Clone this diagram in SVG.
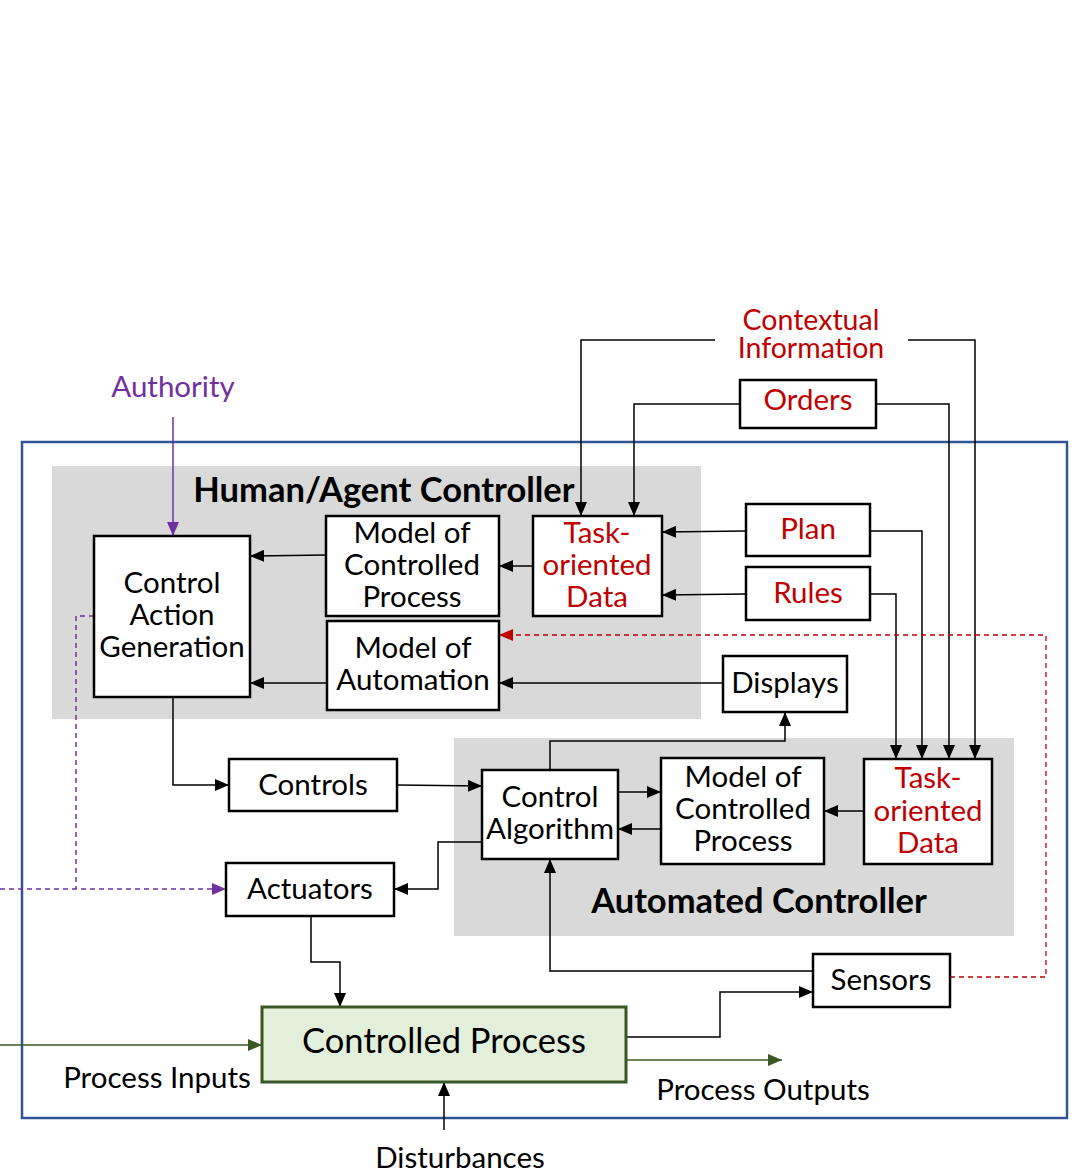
<svg xmlns="http://www.w3.org/2000/svg" width="1074" height="1172" viewBox="0 0 1074 1172">
<style>
  text { font-family: Lato, "Open Sans", "Liberation Sans", sans-serif; font-size: 29.5px; fill: #000; text-anchor: middle; }
  .red { fill: #C00000; }
  .purple { fill: #7030A0; }
  .title { font-weight: bold; font-size: 34.5px; }
  .box { fill: #fff; stroke: #000; stroke-width: 2.5; }
  .zone { fill: #D9D9D9; }
  .line { fill: none; stroke: #000; stroke-width: 1.5; }
  .dash-red { fill: none; stroke: #C00000; stroke-width: 1.3; stroke-dasharray: 5 4; }
  .dash-purple { fill: none; stroke: #7030A0; stroke-width: 1.5; stroke-dasharray: 5 4; }
  .green { fill: none; stroke: #385723; stroke-width: 1.5; }
</style>
<defs>
  <marker id="ah" viewBox="0 0 14 12" refX="14" refY="6" markerWidth="14" markerHeight="12" orient="auto" markerUnits="userSpaceOnUse"><path d="M0,0 L14,6 L0,12 z" fill="#000"/></marker>
  <marker id="ah-red" viewBox="0 0 14 12" refX="14" refY="6" markerWidth="14" markerHeight="12" orient="auto" markerUnits="userSpaceOnUse"><path d="M0,0 L14,6 L0,12 z" fill="#C00000"/></marker>
  <marker id="ah-purple" viewBox="0 0 14 12" refX="14" refY="6" markerWidth="14" markerHeight="12" orient="auto" markerUnits="userSpaceOnUse"><path d="M0,0 L14,6 L0,12 z" fill="#7030A0"/></marker>
  <marker id="ah-green" viewBox="0 0 14 12" refX="14" refY="6" markerWidth="14" markerHeight="12" orient="auto" markerUnits="userSpaceOnUse"><path d="M0,0 L14,6 L0,12 z" fill="#385723"/></marker>
</defs>

<!-- system boundary and controller zones -->
<rect x="22" y="442" width="1045" height="676" fill="none" stroke="#2F5597" stroke-width="2.5"/>
<rect class="zone" x="52" y="466" width="649" height="253"/>
<rect class="zone" x="454" y="738" width="560" height="198"/>
<text class="title" x="384" y="502">Human/Agent Controller</text>
<text class="title" x="759" y="913">Automated Controller</text>

<!-- connectors -->
<g id="connectors">
  <!-- contextual information -->
  <path class="line" d="M715,340 H581 V516" marker-end="url(#ah)"/>
  <path class="line" d="M908,340 H975 V759" marker-end="url(#ah)"/>
  <!-- orders -->
  <path class="line" d="M740,404 H634 V516" marker-end="url(#ah)"/>
  <path class="line" d="M876,404 H949 V759" marker-end="url(#ah)"/>
  <!-- plan / rules -->
  <path class="line" d="M746,531 L662,532" marker-end="url(#ah)"/>
  <path class="line" d="M870,531 H922 V759" marker-end="url(#ah)"/>
  <path class="line" d="M746,594 L662,595" marker-end="url(#ah)"/>
  <path class="line" d="M870,594 H896 V759" marker-end="url(#ah)"/>
  <!-- human controller internals -->
  <path class="line" d="M533,566 H499" marker-end="url(#ah)"/>
  <path class="line" d="M326,555 L250,556" marker-end="url(#ah)"/>
  <path class="line" d="M327,683 H250" marker-end="url(#ah)"/>
  <path class="line" d="M723,683 H499" marker-end="url(#ah)"/>
  <!-- sensor feedback to model of automation -->
  <path class="dash-red" d="M950,977 H1046 V635 H499" marker-end="url(#ah-red)"/>
  <!-- authority -->
  <path d="M173,417 V536" fill="none" stroke="#7030A0" stroke-width="1.5" marker-end="url(#ah-purple)"/>
  <path class="dash-purple" d="M94,616 H76 V889"/>
  <path class="dash-purple" d="M0,889 H226" marker-end="url(#ah-purple)"/>
  <!-- control path -->
  <path class="line" d="M173,697 V785 H229" marker-end="url(#ah)"/>
  <path class="line" d="M397,785 L482,786" marker-end="url(#ah)"/>
  <path class="line" d="M550,770 V741 H785 V712" marker-end="url(#ah)"/>
  <path class="line" d="M618,792 H661" marker-end="url(#ah)"/>
  <path class="line" d="M661,829 H618" marker-end="url(#ah)"/>
  <path class="line" d="M864,811 H824" marker-end="url(#ah)"/>
  <path class="line" d="M482,842 H438 V889 H394" marker-end="url(#ah)"/>
  <path class="line" d="M813,971 H550 V859" marker-end="url(#ah)"/>
  <path class="line" d="M311,916 V962 H340 V1007" marker-end="url(#ah)"/>
  <path class="line" d="M626,1037 H720 V992 H813" marker-end="url(#ah)"/>
  <!-- process flows -->
  <path class="green" d="M626,1060 H782" marker-end="url(#ah-green)"/>
  <path class="green" d="M0,1045 H262" marker-end="url(#ah-green)"/>
  <path class="line" d="M444,1130 V1082" marker-end="url(#ah)"/>
</g>

<!-- free labels -->
<text class="red" x="811" y="330" style="font-size:28.5px"><tspan x="811">Contextual</tspan><tspan x="811" dy="28">Information</tspan></text>
<text class="purple" x="173" y="397">Authority</text>
<text x="157" y="1088">Process Inputs</text>
<text x="763" y="1100">Process Outputs</text>
<text x="460" y="1168">Disturbances</text>

<!-- nodes -->
<g id="orders"><rect class="box" x="740" y="380" width="136" height="48"/><text class="red" x="808" y="410">Orders</text></g>
<g id="plan"><rect class="box" x="746" y="504" width="124" height="52"/><text class="red" x="808" y="539">Plan</text></g>
<g id="rules"><rect class="box" x="746" y="567" width="124" height="53"/><text class="red" x="808" y="603">Rules</text></g>
<g id="control-action-generation"><rect class="box" x="94" y="536" width="156" height="161"/>
  <text x="172" y="593">Control</text><text x="172" y="625">Action</text><text x="172" y="657">Generation</text></g>
<g id="human-model-process"><rect class="box" x="326" y="516" width="173" height="100"/>
  <text x="412" y="543">Model of</text><text x="412" y="575">Controlled</text><text x="412" y="607">Process</text></g>
<g id="human-task-data"><rect class="box" x="533" y="516" width="129" height="100"/>
  <text class="red" x="597" y="543">Task-</text><text class="red" x="597" y="575">oriented</text><text class="red" x="597" y="607">Data</text></g>
<g id="model-of-automation"><rect class="box" x="327" y="621" width="172" height="89"/>
  <text x="413" y="658">Model of</text><text x="413" y="690">Automation</text></g>
<g id="displays"><rect class="box" x="723" y="656" width="124" height="56"/><text x="785" y="693">Displays</text></g>
<g id="controls"><rect class="box" x="229" y="759" width="168" height="52"/><text x="313" y="795">Controls</text></g>
<g id="control-algorithm"><rect class="box" x="482" y="770" width="136" height="89"/>
  <text x="550" y="807">Control</text><text x="550" y="839">Algorithm</text></g>
<g id="auto-model-process"><rect class="box" x="661" y="758" width="163" height="106"/>
  <text x="743" y="787">Model of</text><text x="743" y="819">Controlled</text><text x="743" y="851">Process</text></g>
<g id="auto-task-data"><rect class="box" x="864" y="759" width="128" height="105"/>
  <text class="red" x="928" y="788">Task-</text><text class="red" x="928" y="821">oriented</text><text class="red" x="928" y="853">Data</text></g>
<g id="actuators"><rect class="box" x="226" y="863" width="168" height="53"/><text x="310" y="899">Actuators</text></g>
<g id="sensors"><rect class="box" x="813" y="954" width="137" height="53"/><text x="881" y="990">Sensors</text></g>
<g id="controlled-process"><rect x="262" y="1007" width="364" height="75" fill="#E2EFDA" stroke="#385723" stroke-width="3"/>
  <text x="444" y="1053" style="font-size:34.5px">Controlled Process</text></g>
</svg>
